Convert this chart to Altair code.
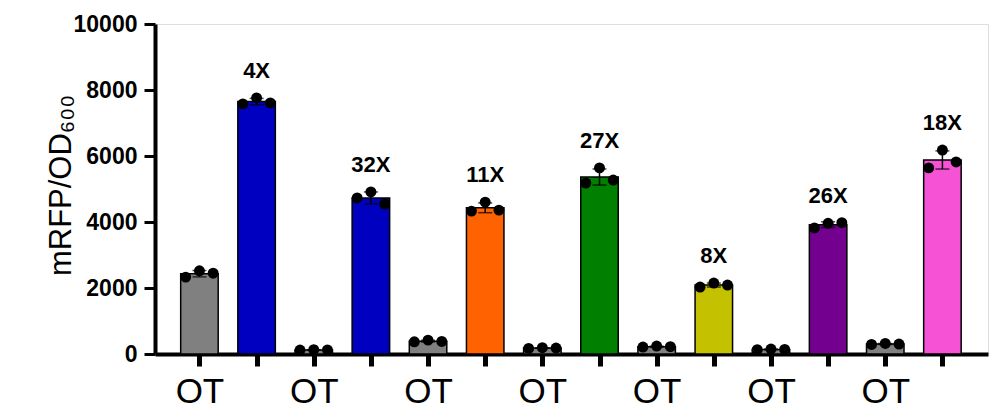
import json
import altair as alt
import pandas as pd

# ---- data ----
groups = ["OT-1", "A", "OT-2", "B", "OT-3", "C", "OT-4", "D", "OT-5", "E", "OT-6", "F", "OT-7", "G"]
tick_labels = ["OT", "", "OT", "", "OT", "", "OT", "", "OT", "", "OT", "", "OT", ""]
fold_labels = ["", "4X", "", "32X", "", "11X", "", "27X", "", "8X", "", "26X", "", "18X"]
bar_colors = ["#808080", "#0000C0", "#808080", "#0000C0", "#808080", "#FF6200", "#808080",
              "#007F00", "#808080", "#C4C200", "#808080", "#740090", "#808080", "#F652D6"]
rep_left = [2330, 7580, 120, 4730, 370, 4330, 170, 5180, 210, 2030, 130, 3820, 290, 5640]
rep_center = [2520, 7760, 130, 4910, 420, 4600, 190, 5640, 240, 2150, 150, 3960, 320, 6180]
rep_right = [2450, 7610, 125, 4545, 380, 4360, 180, 5270, 220, 2090, 140, 3980, 300, 5820]
y_ticks = [0, 2000, 4000, 6000, 8000, 10000]

rows = []
for i, g in enumerate(groups):
    for r, vals in enumerate([rep_left, rep_center, rep_right]):
        rows.append({"pos": i, "group": g, "fold": fold_labels[i], "rep": r, "value": vals[i]})
df = pd.DataFrame(rows)

FONT = "Liberation Sans"

x_scale = alt.Scale(domain=[-0.69, 13.71], nice=False, zero=False)
y_scale = alt.Scale(domain=[0, 10000], nice=False)

x_axis = alt.Axis(
    values=list(range(len(groups))),
    labelExpr=f"{json.dumps(tick_labels)}[datum.value]",
    title=None, grid=False,
    domainColor="black", domainWidth=4,
    tickColor="black", tickWidth=5, tickSize=12,
    labelFont=FONT, labelFontSize=35, labelColor="black", labelPadding=8,
    labelOverlap=False, labelFlush=False,
)
y_axis = alt.Axis(
    values=y_ticks, format="d", grid=False,
    domainColor="black", domainWidth=4,
    tickColor="black", tickWidth=3, tickSize=11,
    labelFont=FONT, labelFontSize=23, labelFontWeight="bold", labelColor="black", labelPadding=7,
    title="mRFP/OD₆₀₀", titleFont=FONT, titleFontSize=31, titleFontWeight="normal",
    titleColor="black", titleX=-85, titleY=161, titleBaseline="alphabetic", titleAlign="center",
)

base = alt.Chart(df)

bars = base.mark_bar(size=37.5, stroke="black", strokeWidth=1.5).encode(
    x=alt.X("pos:Q", scale=x_scale, axis=x_axis),
    y=alt.Y("mean(value):Q", scale=y_scale, axis=y_axis),
    color=alt.Color("group:N", scale=alt.Scale(domain=groups, range=bar_colors), legend=None),
)

errs = base.mark_errorbar(extent="stdev", ticks=True, size=14, thickness=1.5,
                          color="black", orient="vertical").encode(
    x=alt.X("pos:Q", scale=x_scale, axis=x_axis),
    y=alt.Y("value:Q", scale=y_scale, axis=y_axis),
)

points = base.transform_calculate(
    xj="datum.pos + (datum.rep - 1) * 0.24"
).mark_circle(size=120, color="black", opacity=1).encode(
    x=alt.X("xj:Q", scale=x_scale, axis=x_axis),
    y=alt.Y("value:Q", scale=y_scale, axis=y_axis),
)

labels = base.transform_filter("datum.fold != ''").mark_text(
    font=FONT, fontSize=22, fontWeight="bold", color="black",
    baseline="alphabetic", align="center", dy=-20,
).encode(
    x=alt.X("pos:Q", scale=x_scale, axis=x_axis),
    y=alt.Y("max(value):Q", scale=y_scale, axis=y_axis),
    text="fold:N",
)

chart = alt.layer(bars, errs, points, labels).properties(
    width=833, height=330,
    autosize=alt.AutoSizeParams(type="none"),
    padding={"left": 155, "top": 24, "right": 17, "bottom": 64},
).configure_view(stroke=None).configure(background="white")

chart.save("out.html", embed_options={"renderer": "svg", "actions": False})
